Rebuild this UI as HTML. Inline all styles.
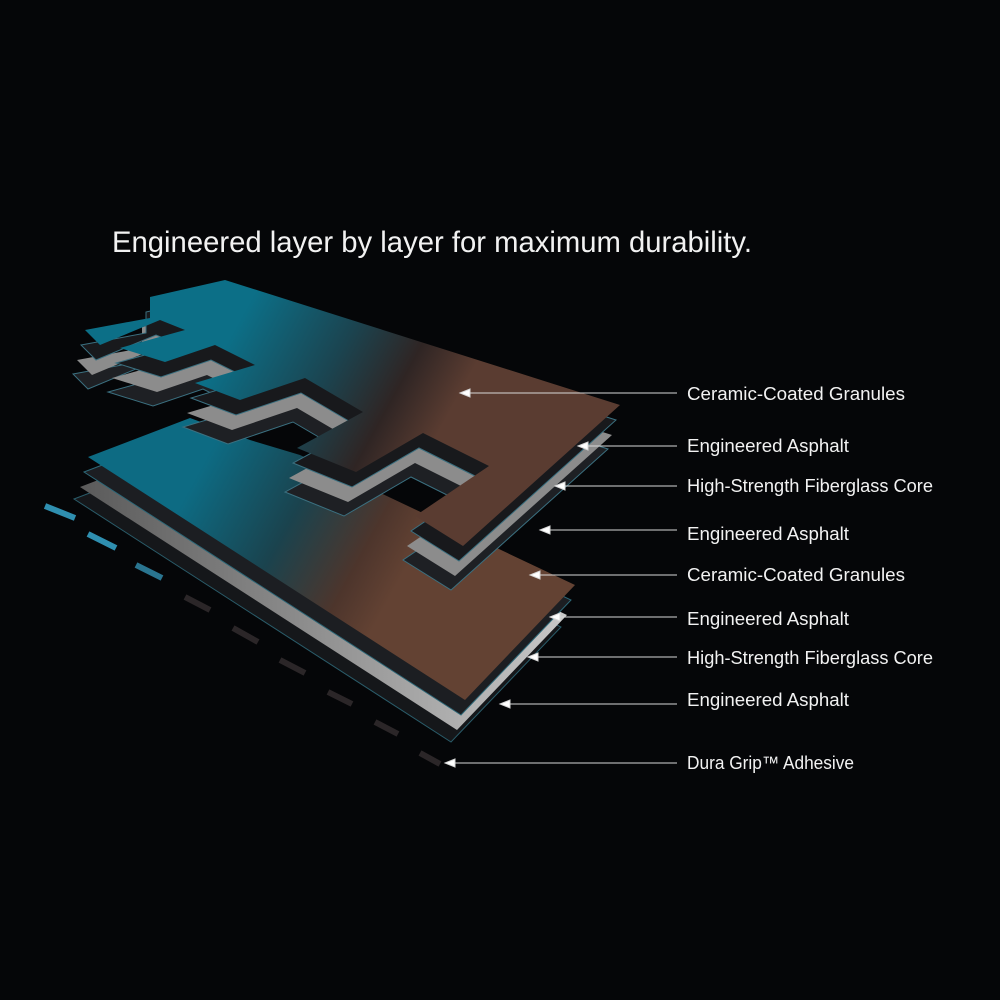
<!DOCTYPE html>
<html><head><meta charset="utf-8"><style>
html,body{margin:0;padding:0;background:#050608;}
svg{display:block}
text{font-family:"Liberation Sans",sans-serif;fill:#f2f2f2}
</style></head><body>
<svg width="1000" height="1000" viewBox="0 0 1000 1000">
<defs>
<linearGradient id="gU" gradientUnits="userSpaceOnUse" x1="240" y1="320" x2="440" y2="430">
<stop offset="0" stop-color="#0c6f87"/><stop offset="0.45" stop-color="#1b4450"/><stop offset="0.75" stop-color="#2f2524"/><stop offset="1" stop-color="#5a3c31"/>
</linearGradient>
<linearGradient id="gL" gradientUnits="userSpaceOnUse" x1="200" y1="470" x2="400" y2="580">
<stop offset="0" stop-color="#0d6b83"/><stop offset="0.45" stop-color="#1a434e"/><stop offset="0.8" stop-color="#4d352c"/><stop offset="1" stop-color="#634233"/>
</linearGradient>
<linearGradient id="gW" x1="0" y1="0" x2="1" y2="0">
<stop offset="0" stop-color="#5a5a5a"/><stop offset="1" stop-color="#c8c8c8"/>
</linearGradient>
<polygon id="top" points="85,330 150,318 150,297 225,280 620,405 463,546 415,516 489,466 423,433 356,472 297,448 363,412 305,378 240,400 195,383 255,365 215,345 165,362 120,348 185,330 160,320 100,345"/>
<polygon id="low" points="88,457 190,418 250,440 300,455 575,585 465,700"/>
</defs>
<rect width="1000" height="1000" fill="#050608"/>
<text x="112" y="252" font-size="30" textLength="640" lengthAdjust="spacingAndGlyphs">Engineered layer by layer for maximum durability.</text>

<g stroke-width="6">
<line x1="45" y1="506" x2="75" y2="518" stroke="#2f8fb0"/>
<line x1="88" y1="534" x2="116" y2="548" stroke="#2f8fb0"/>
<line x1="136" y1="565" x2="162" y2="578" stroke="#2a7590"/>
<line x1="185" y1="597" x2="210" y2="610" stroke="#2b2628"/>
<line x1="233" y1="628" x2="258" y2="642" stroke="#2b2628"/>
<line x1="280" y1="660" x2="305" y2="673" stroke="#2b2628"/>
<line x1="328" y1="692" x2="352" y2="704" stroke="#2b2628"/>
<line x1="375" y1="722" x2="398" y2="734" stroke="#2b2628"/>
<line x1="420" y1="753" x2="440" y2="764" stroke="#2b2628"/>
</g>

<!-- lower stack -->
<use href="#low" transform="translate(-14,42)" fill="#15171a" stroke="#2a5c6a" stroke-width="1"/>
<use href="#low" transform="translate(-8,30)" fill="url(#gW)"/>
<use href="#low" transform="translate(-4,15)" fill="#1c1e22" stroke="#2d6878"/>
<use href="#low" fill="url(#gL)"/>

<!-- upper stack -->
<use href="#top" transform="translate(-12,44)" fill="#1e2024" stroke="#3b7080"/>
<use href="#top" transform="translate(-8,30)" fill="#8c8c8c"/>
<use href="#top" transform="translate(-4,15)" fill="#18191c" stroke="#3b7080"/>
<use href="#top" fill="url(#gU)"/>

<g stroke="#d8d8d8" stroke-width="1" fill="#fff">
<line x1="468" y1="393" x2="677" y2="393"/><polygon points="460,393 470,389 470,397"/>
<line x1="586" y1="446" x2="677" y2="446"/><polygon points="578,446 588,442 588,450"/>
<line x1="563" y1="486" x2="677" y2="486"/><polygon points="555,486 565,482 565,490"/>
<line x1="548" y1="530" x2="677" y2="530"/><polygon points="540,530 550,526 550,534"/>
<line x1="538" y1="575" x2="677" y2="575"/><polygon points="530,575 540,571 540,579"/>
<line x1="558" y1="617" x2="677" y2="617"/><polygon points="550,617 560,613 560,621"/>
<line x1="536" y1="657" x2="677" y2="657"/><polygon points="528,657 538,653 538,661"/>
<line x1="508" y1="704" x2="677" y2="704"/><polygon points="500,704 510,700 510,708"/>
<line x1="453" y1="763" x2="677" y2="763"/><polygon points="445,763 455,759 455,767"/>
</g>
<g font-size="18">
<text x="687" y="400" textLength="218" lengthAdjust="spacingAndGlyphs">Ceramic-Coated Granules</text>
<text x="687" y="452" textLength="162" lengthAdjust="spacingAndGlyphs">Engineered Asphalt</text>
<text x="687" y="492" textLength="246" lengthAdjust="spacingAndGlyphs">High-Strength Fiberglass Core</text>
<text x="687" y="540" textLength="162" lengthAdjust="spacingAndGlyphs">Engineered Asphalt</text>
<text x="687" y="581" textLength="218" lengthAdjust="spacingAndGlyphs">Ceramic-Coated Granules</text>
<text x="687" y="625" textLength="162" lengthAdjust="spacingAndGlyphs">Engineered Asphalt</text>
<text x="687" y="664" textLength="246" lengthAdjust="spacingAndGlyphs">High-Strength Fiberglass Core</text>
<text x="687" y="706" textLength="162" lengthAdjust="spacingAndGlyphs">Engineered Asphalt</text>
<text x="687" y="769" textLength="167" lengthAdjust="spacingAndGlyphs">Dura Grip™ Adhesive</text>
</g>
</svg>
</body></html>
